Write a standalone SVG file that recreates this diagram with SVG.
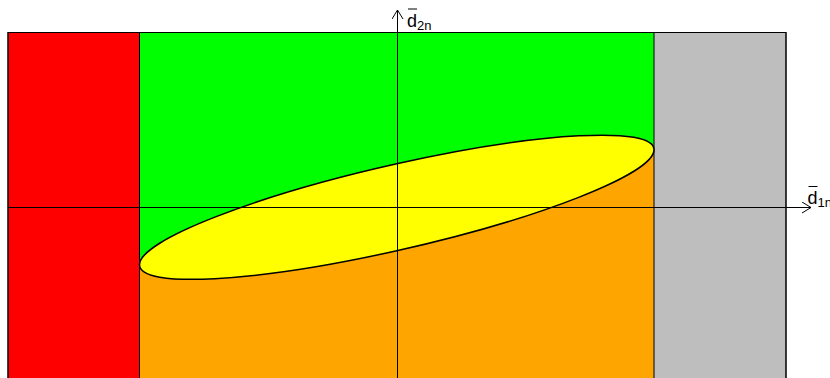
<svg xmlns="http://www.w3.org/2000/svg" width="830" height="378" viewBox="0 0 830 378">
<style>
  .edge { stroke: #000; stroke-width: 1; fill: none; }
  .lbl { font-family: "Liberation Sans", Arial, sans-serif; font-size: 18px; fill: #000; }
  .sub { font-size: 13px; }
  .bar { stroke: #000; stroke-width: 1; }
</style>
<defs>
  <marker id="arr" markerWidth="12" markerHeight="12" refX="10" refY="6" orient="auto" markerUnits="userSpaceOnUse">
    <path d="M1,0.5 L10,6 L1,11.5" fill="none" stroke="#000" stroke-width="1"/>
  </marker>
</defs>
<rect x="0" y="0" width="830" height="378" fill="#fff"/>
<g id="region-orange">
  <rect x="139.5" y="32.5" width="514.5" height="360" fill="#FFA500"/>
</g>
<g id="region-green">
  <path d="M139.5,32.5 H654 V149.75 C654,125.72 538.83,131.99 396.75,163.75 C254.67,195.51 139.5,240.72 139.5,264.75 Z" fill="#00FF00"/>
</g>
<g id="region-red">
  <rect x="8" y="32.5" width="131.5" height="360" class="edge" style="fill:#FF0000"/>
</g>
<g id="region-gray">
  <rect x="654" y="32.5" width="132" height="360" class="edge" style="fill:#BEBEBE"/>
</g>
<g id="frame">
  <rect x="8" y="32.5" width="778" height="360" class="edge"/>
</g>
<g id="ellipse">
  <path d="M654,149.75 C654,173.78 538.83,218.99 396.75,250.75 C254.67,282.51 139.5,288.78 139.5,264.75 C139.5,240.72 254.67,195.51 396.75,163.75 C538.83,131.99 654,125.72 654,149.75 Z" fill="#FFFF00" stroke="#000" stroke-width="1.5"/>
</g>
<g id="connectors">
  <line x1="8" y1="207.5" x2="811" y2="207.5" class="edge" marker-end="url(#arr)"/>
  <line x1="397.5" y1="378" x2="397.5" y2="10" class="edge" marker-end="url(#arr)"/>
</g>
<g id="label-d2n">
  <line x1="408" y1="9" x2="417" y2="9" class="bar"/>
  <text x="407" y="27" class="lbl">d<tspan class="sub" dy="3">2n</tspan></text>
</g>
<g id="label-d1n">
  <line x1="808.5" y1="186.5" x2="817.5" y2="186.5" class="bar"/>
  <text x="807.5" y="204" class="lbl">d<tspan class="sub" dy="3">1n</tspan></text>
</g>
</svg>
